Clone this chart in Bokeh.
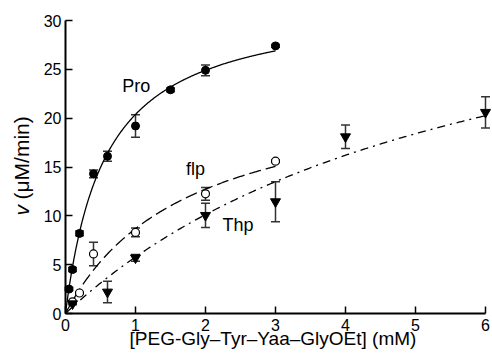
import numpy as np
from bokeh.plotting import figure
from bokeh.models import Label, FixedTicker, LinearAxis
from bokeh.embed import file_html
from bokeh.resources import INLINE

# ---- data ----
pro_x = [0.05, 0.1, 0.2, 0.4, 0.6, 1.0, 1.5, 2.0, 3.0]
pro_v = [2.5, 4.5, 8.2, 14.3, 16.1, 19.2, 22.9, 24.9, 27.4]
pro_err = [0.15, 0.2, 0.25, 0.4, 0.5, 1.15, 0.2, 0.55, 0.15]

flp_x = [0.1, 0.2, 0.4, 1.0, 2.0, 3.0]
flp_v = [1.2, 2.1, 6.1, 8.3, 12.25, 15.6]
flp_err = [0.1, 0.1, 1.2, 0.45, 0.65, 0.15]

thp_x = [0.1, 0.6, 1.0, 2.0, 3.0, 4.0, 6.0]
thp_v = [1.0, 2.2, 5.7, 10.05, 11.45, 18.1, 20.6]
thp_err = [0.1, 1.1, 0.35, 1.25, 2.05, 1.2, 1.6]

# Michaelis-Menten fits (Vmax in uM/min, Km in mM) and fitted x extent
pro_fit = (32.0, 0.57)
flp_fit = (23.8, 1.74)
thp_fit = (40.5, 6.0)
pro_fit_xmax = 3.0
flp_fit_xmax = 3.0
thp_fit_xmax = 6.0

x_ticks = [0, 1, 2, 3, 4, 5, 6]
y_ticks = [0, 5, 10, 15, 20, 25, 30]
x_axis_span = (0, 6)
y_axis_span = (0, 30)

series_names = ["Pro", "flp", "Thp"]
x_label = "[PEG-Gly\u2013Tyr\u2013Yaa\u2013GlyOEt] (mM)"
y_label_var = "v"
y_label_unit = "(\u03bcM/min)"

FONT = "Liberation Sans"
EC = "#333333"

# ---- layout: axes drawn at fixed data locations so the frame covers the canvas ----
W, H = 492, 358
X0_PX, X6_PX = 65, 485      # pixel columns of x = 0 and x = 6
Y0_PX, Y30_PX = 313, 20     # pixel rows of y = 0 and y = 30
sx = (X6_PX - X0_PX) / (x_axis_span[1] - x_axis_span[0])
sy = (Y0_PX - Y30_PX) / (y_axis_span[1] - y_axis_span[0])
x_range = (-X0_PX / sx, (W - X0_PX) / sx)
y_range = (-(H - Y0_PX) / sy, y_axis_span[1] + Y30_PX / sy)

p = figure(width=W, height=H, x_range=x_range, y_range=y_range,
           output_backend="svg", toolbar_location=None,
           x_axis_location=None, y_axis_location=None,
           min_border_left=0, min_border_right=0,
           min_border_top=0, min_border_bottom=0)
p.grid.visible = False
p.outline_line_color = None

xaxis = LinearAxis(fixed_location=0, bounds=x_axis_span, ticker=FixedTicker(ticks=x_ticks))
yaxis = LinearAxis(fixed_location=0, bounds=y_axis_span, ticker=FixedTicker(ticks=y_ticks))
for ax in (xaxis, yaxis):
    ax.axis_line_width = 2
    ax.axis_line_color = "black"
    ax.major_tick_in = 7
    ax.major_tick_out = 0
    ax.major_tick_line_width = 1.5
    ax.major_tick_line_color = "black"
    ax.minor_tick_line_color = None
    ax.major_label_text_font = FONT
    ax.major_label_text_color = "black"
    ax.major_label_text_font_size = "16px"
xaxis.major_label_standoff = 5
yaxis.major_label_standoff = 4
p.add_layout(xaxis, "below")
p.add_layout(yaxis, "left")


def errbars(x, v, e):
    lo = [a - b for a, b in zip(v, e)]
    hi = [a + b for a, b in zip(v, e)]
    p.segment(x0=x, y0=lo, x1=x, y1=hi, line_color=EC, line_width=1.5)
    p.scatter(x=list(x) + list(x), y=lo + hi, marker="dash", size=9,
              line_color=EC, line_width=1.5)


def mm_curve(fit, xmax):
    vmax, km = fit
    xs = np.linspace(0, xmax, 300)
    return xs, vmax * xs / (km + xs)


errbars(pro_x, pro_v, pro_err)
errbars(flp_x, flp_v, flp_err)
errbars(thp_x, thp_v, thp_err)

xs, ys = mm_curve(pro_fit, pro_fit_xmax)
p.line(xs, ys, line_color="black", line_width=1.3)
xs, ys = mm_curve(flp_fit, flp_fit_xmax)
p.line(xs, ys, line_color="black", line_width=1.3, line_dash="12 5")
xs, ys = mm_curve(thp_fit, thp_fit_xmax)
p.line(xs, ys, line_color="black", line_width=1.3, line_dash="8 5 2 5")

p.scatter(pro_x, pro_v, marker="circle", size=8, fill_color="black", line_color="black")
p.scatter(flp_x, flp_v, marker="circle", size=8, fill_color="white",
          line_color="black", line_width=1.2)
p.scatter(thp_x, thp_v, marker="inverted_triangle", size=10, fill_color="black",
          line_color="black")

label_pos = [(0.81, 23.25), (1.72, 14.8), (2.244, 9.1)]
for name, (lx, ly) in zip(series_names, label_pos):
    p.add_layout(Label(x=lx, y=ly, text=name, text_font=FONT, text_font_size="18px",
                       text_color="black", text_align="left", text_baseline="alphabetic"))

# axis titles (data coordinates; the frame spans the whole canvas)
p.add_layout(Label(x=2.964, y=-2.56, text=x_label, text_font=FONT, text_font_size="19px",
                   text_color="black", text_align="center", text_baseline="middle"))
p.add_layout(Label(x=-0.629, y=10.03, text=y_label_var, angle=np.pi / 2, text_font=FONT,
                   text_font_size="21px", text_font_style="italic", text_color="black",
                   text_align="left", text_baseline="middle"))
p.add_layout(Label(x=-0.629, y=11.67, text=y_label_unit, angle=np.pi / 2, text_font=FONT,
                   text_font_size="21px", text_color="black",
                   text_align="left", text_baseline="middle"))

open("out.html", "w").write(file_html(p, INLINE))
